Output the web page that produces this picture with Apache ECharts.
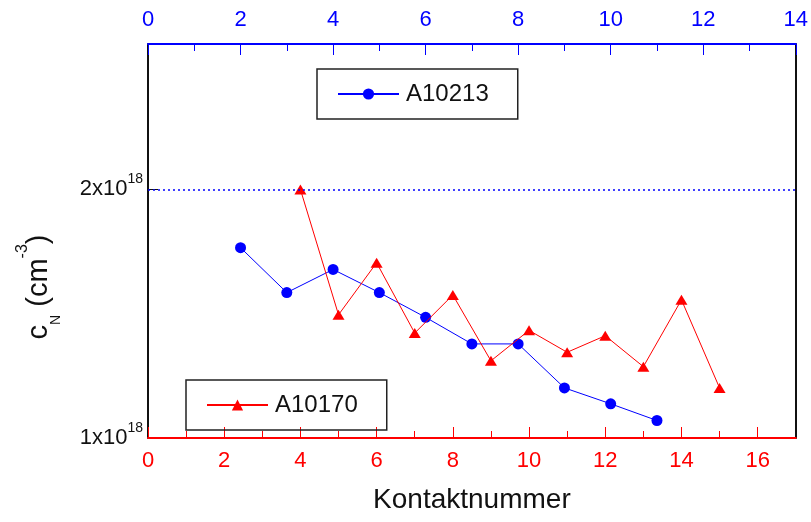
<!DOCTYPE html>
<html>
<head>
<meta charset="utf-8">
<script src="https://cdn.jsdelivr.net/npm/echarts@6/dist/echarts.min.js"></script>
<style>
  html, body { margin: 0; padding: 0; background: #fff; }
  #chart { width: 811px; height: 522px; }
</style>
</head>
<body>
<div id="chart"></div>
<script>
// Tick positions of the two Kontaktnummer axes
const bottomMajor = [0, 2, 4, 6, 8, 10, 12, 14, 16];
const bottomMinor = [1, 3, 5, 7, 9, 11, 13, 15];
const topMajor = [0, 2, 4, 6, 8, 10, 12, 14];
const topMinor = [1, 3, 5, 7, 9, 11, 13];
const yTicks = [1e18, 2e18];

// Sample A10213 (upper axis)
const blueName = 'A10213';
const blueX = [2, 3, 4, 5, 6, 7, 8, 9, 10, 11];
const blueY = [1.70e18, 1.50e18, 1.60e18, 1.50e18, 1.40e18, 1.30e18, 1.30e18, 1.15e18, 1.10e18, 1.05e18];

// Sample A10170 (lower axis)
const redName = 'A10170';
const redX = [4, 5, 6, 7, 8, 9, 10, 11, 12, 13, 14, 15];
const redY = [2.00e18, 1.41e18, 1.63e18, 1.34e18, 1.49e18, 1.24e18, 1.35e18, 1.27e18, 1.33e18, 1.22e18, 1.47e18, 1.15e18];

// Dotted reference level
const refLevel = 2e18;

const BLUE = '#0000ff';
const RED = '#ff0000';
const FONT = 'Liberation Sans, Arial, sans-serif';

const zip = (xs, ys) => xs.map((x, i) => [x, ys[i]]);

function sciLabel(v) {
  const exp = Math.floor(Math.log10(v) + 1e-9);
  const mant = Math.round(v / Math.pow(10, exp));
  return '{b|' + mant + 'x10}{s|' + exp + '}';
}

const chart = echarts.init(document.getElementById('chart'));

const legendBase = {
  orient: 'horizontal',
  itemWidth: 61, itemHeight: 14, itemGap: 0,
  padding: [13, 29, 13, 20],
  borderColor: '#222', borderWidth: 1.5,
  textStyle: { color: '#111', fontSize: 24, fontFamily: FONT, padding: [0, 0, 0, 2] }
};

const option = {
  animation: false,
  backgroundColor: '#ffffff',
  grid: { left: 148, right: 14, top: 44, bottom: 84, containLabel: false },
  xAxis: [
    { // lower axis: line, short ticks, labels
      type: 'value', position: 'bottom', min: 0, max: 17, interval: 1,
      axisLine: { show: true, onZero: false, lineStyle: { color: RED, width: 2 } },
      axisTick: { show: true, inside: true, length: 7, customValues: bottomMinor, lineStyle: { color: RED, width: 1 } },
      axisLabel: { show: true, customValues: bottomMajor, color: RED, fontSize: 22, fontFamily: FONT, margin: 12 },
      splitLine: { show: false },
      name: 'Kontaktnummer', nameLocation: 'middle', nameGap: 48,
      nameTextStyle: { color: '#111', fontSize: 28, fontFamily: FONT }
    },
    { // lower axis: long ticks
      type: 'value', position: 'bottom', min: 0, max: 17, interval: 1,
      axisLine: { show: false, onZero: false },
      axisTick: { show: true, inside: true, length: 11, customValues: bottomMajor, lineStyle: { color: RED, width: 1 } },
      axisLabel: { show: false },
      splitLine: { show: false }
    },
    { // upper axis: line, short ticks, labels
      type: 'value', position: 'top', min: 0, max: 14, interval: 1,
      axisLine: { show: true, onZero: false, lineStyle: { color: BLUE, width: 2 } },
      axisTick: { show: true, inside: true, length: 7, customValues: topMinor, lineStyle: { color: BLUE, width: 1 } },
      axisLabel: { show: true, customValues: topMajor, color: BLUE, fontSize: 22, fontFamily: FONT, margin: 13 },
      splitLine: { show: false }
    },
    { // upper axis: long ticks
      type: 'value', position: 'top', min: 0, max: 14, interval: 1,
      axisLine: { show: false, onZero: false },
      axisTick: { show: true, inside: true, length: 11, customValues: topMajor, lineStyle: { color: BLUE, width: 1 } },
      axisLabel: { show: false },
      splitLine: { show: false }
    }
  ],
  yAxis: [
    {
      type: 'log', logBase: 10, min: 1e18, max: 3e18, position: 'left',
      axisLine: { show: true, onZero: false, lineStyle: { color: '#111', width: 2 } },
      axisTick: { show: true, inside: true, length: 10, customValues: [yTicks[1]], lineStyle: { color: '#111', width: 1 } },
      axisLabel: {
        show: true, customValues: yTicks, margin: 5,
        formatter: sciLabel,
        rich: {
          b: { fontSize: 22, lineHeight: 34, color: '#111', fontFamily: FONT },
          s: { fontSize: 14, lineHeight: 14, verticalAlign: 'top', color: '#111', fontFamily: FONT }
        }
      },
      splitLine: { show: false }
    },
    {
      type: 'value', position: 'right', min: 0, max: 1,
      axisLine: { show: true, onZero: false, lineStyle: { color: '#111', width: 2 } },
      axisTick: { show: false }, axisLabel: { show: false }, splitLine: { show: false }
    }
  ],
  legend: [
    Object.assign({ data: [blueName], left: 317, top: 69 }, legendBase),
    Object.assign({ data: [redName], left: 186, top: 380 }, legendBase)
  ],
  graphic: [
    {
      type: 'text', x: 39, y: 287, rotation: Math.PI / 2,
      style: {
        text: '{m|c}{sub|N}{m| (cm}{sup|-3}{m|)}',
        align: 'center', verticalAlign: 'middle',
        rich: {
          m: { fontSize: 29, lineHeight: 48, fill: '#111', fontFamily: FONT },
          sub: { fontSize: 14, lineHeight: 14, verticalAlign: 'bottom', fill: '#111', fontFamily: FONT },
          sup: { fontSize: 16, lineHeight: 16, verticalAlign: 'top', fill: '#111', fontFamily: FONT }
        }
      }
    }
  ],
  series: [
    {
      name: redName, type: 'line', xAxisIndex: 0, yAxisIndex: 0,
      data: zip(redX, redY),
      symbol: 'triangle', symbolSize: [12, 10],
      lineStyle: { color: RED, width: 1 },
      itemStyle: { color: RED },
      markLine: {
        silent: true, symbol: ['none', 'none'], label: { show: false },
        lineStyle: { color: BLUE, width: 1.5, type: [2, 3] },
        data: [{ yAxis: refLevel }]
      },
      z: 3
    },
    {
      name: blueName, type: 'line', xAxisIndex: 2, yAxisIndex: 0,
      data: zip(blueX, blueY),
      symbol: 'circle', symbolSize: 11,
      lineStyle: { color: BLUE, width: 1 },
      itemStyle: { color: BLUE },
      z: 2
    }
  ]
};

chart.setOption(option);
</script>
</body>
</html>
